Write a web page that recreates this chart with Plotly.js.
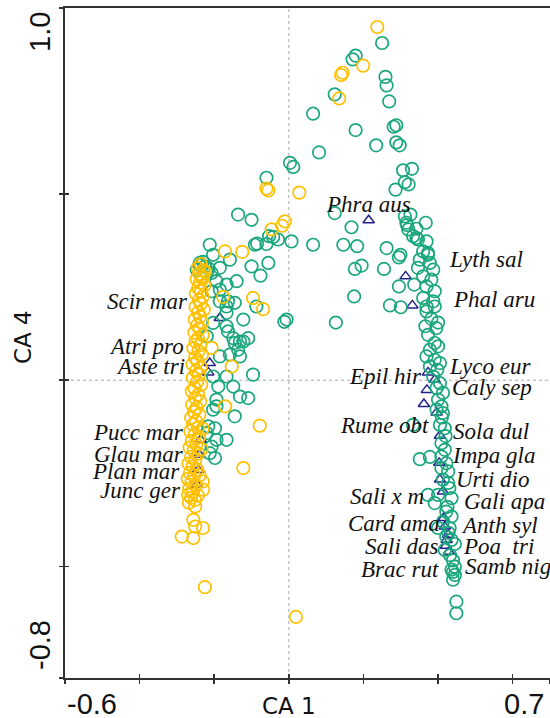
<!DOCTYPE html>
<html>
<head>
<meta charset="utf-8">
<script src="https://cdn.plot.ly/plotly-3.0.1.min.js"></script>
<style>
  html, body { margin: 0; padding: 0; background: #fff; }
  #chart { width: 550px; height: 718px; }
</style>
</head>
<body>
<div id="chart"></div>
<script>
// Sample scores on CA axes 1 and 4, group 1 (green)
const greenX = [
  0.250, 0.179, 0.171, 0.259, 0.262, 0.123, 0.269, 0.065, 0.179, 0.281, 0.288, 0.234, 0.288, 0.297, 0.081,
  0.003, 0.012, 0.306, 0.330, 0.311, 0.321, 0.286, -0.060,
  0.326, 0.315, 0.367, 0.320, 0.333, 0.346, 0.369, 0.360, 0.373, 0.262, 0.299, 0.311, 0.317, 0.342, 0.342,
  0.373, 0.351, 0.378, 0.346, 0.387, 0.360, 0.382, 0.369, 0.391, 0.360, 0.387, 0.369, 0.391, 0.369, 0.366,
  0.373, 0.391, 0.400, 0.378, 0.369, 0.391, 0.405, 0.378, 0.387, 0.405, 0.396, 0.413, 0.400, 0.409, 0.396,
  0.413, 0.405, 0.418, 0.409, 0.418, 0.378, 0.409, 0.422, 0.409, 0.427, 0.413, 0.427, 0.373, 0.400, 0.436,
  0.391, 0.422, 0.436, 0.413, 0.400, 0.431, 0.422, 0.436, 0.418, 0.440, 0.445, 0.436, 0.445, 0.440, 0.449,
  0.449, 0.333, 0.351, 0.395, 0.382, 0.398, 0.410, 0.420, 0.430, 0.425, 0.428, 0.445, 0.432, 0.440,
  0.123, 0.168, 0.146, 0.183, 0.295, 0.177, 0.195, 0.255, 0.295, 0.336, 0.175, 0.271, 0.300, 0.126, 0.400,
  0.065, 0.007, -0.006, -0.012,
  -0.136, -0.100, -0.053, -0.042, -0.029, -0.085, -0.060, -0.158, -0.100, -0.076, -0.055, -0.185, -0.140,
  -0.167, -0.185, -0.163, -0.145, -0.087, -0.167, -0.122, -0.163, -0.149, -0.109, -0.131, -0.212, -0.203,
  -0.091, -0.238, -0.247, -0.225, -0.207, -0.194, -0.207, -0.185, -0.167, -0.203, -0.167, -0.220, -0.145,
  -0.122, -0.136, -0.158, -0.131, -0.185, -0.203, -0.167, -0.096, -0.189, -0.149, -0.131, -0.194, -0.109,
  -0.145, -0.203, -0.216, -0.194, -0.198, -0.220, -0.167, -0.194, -0.207, -0.198, -0.212,
  -0.240, -0.230, -0.215, -0.220
];
const greenY = [
  0.906, 0.872, 0.862, 0.815, 0.792, 0.768, 0.749, 0.716, 0.672, 0.681, 0.685, 0.631, 0.639, 0.631, 0.612,
  0.584, 0.573, 0.564, 0.568, 0.532, 0.526, 0.512, 0.544,
  0.445, 0.423, 0.423, 0.405, 0.387, 0.378, 0.373, 0.346, 0.342, 0.355, 0.337, 0.440, 0.417, 0.407, 0.382,
  0.337, 0.324, 0.315, 0.302, 0.297, 0.279, 0.270, 0.252, 0.239, 0.221, 0.212, 0.198, 0.198, 0.185, 0.145,
  0.122, 0.100, 0.091, 0.082, 0.064, 0.055, 0.046, 0.037, 0.010, -0.008, -0.021, -0.034, -0.052, -0.070, -0.079,
  -0.088, -0.120, -0.129, -0.169, -0.187, -0.206, -0.205, -0.223, -0.236, -0.245, -0.267, -0.276, -0.308, -0.308, -0.317,
  -0.330, -0.353, -0.366, -0.380, -0.397, -0.397, -0.420, -0.429, -0.456, -0.484, -0.501, -0.509, -0.523, -0.536, -0.595,
  -0.626, -0.120, -0.212, 0.140, 0.165, 0.028, -0.100, -0.150, -0.290, -0.340, -0.410, -0.440, -0.470, -0.515,
  0.449, 0.411, 0.364, 0.360, 0.330, 0.299, 0.308, 0.299, 0.252, 0.257, 0.225, 0.201, 0.196, 0.155, 0.155,
  0.364, 0.373, 0.163, 0.157,
  0.445, 0.431, 0.387, 0.385, 0.378, 0.367, 0.366, 0.324, 0.306, 0.281, 0.315, 0.302, 0.266,
  0.257, 0.243, 0.212, 0.208, 0.198, 0.181, 0.163, 0.131, 0.113, 0.113, 0.104, 0.364, 0.337,
  0.364, 0.315, 0.297, 0.306, 0.288, 0.266, 0.239, 0.212, 0.198, 0.154, 0.145, 0.118, 0.100,
  0.104, 0.082, 0.069, 0.064, 0.064, 0.010, 0.010, 0.015, -0.017, -0.017, -0.044, -0.052, -0.048,
  -0.097, -0.079, -0.124, -0.070, -0.129, -0.142, -0.160, -0.160, -0.178, -0.209, -0.196,
  0.310, 0.318, 0.300, 0.290
];

// Sample scores, group 2 (orange)
const orangeX = [
  0.237, 0.199, 0.144, 0.140, 0.135, -0.055, -0.060, 0.028, -0.011, -0.018, -0.046, -0.171, -0.125,
  -0.176, -0.096, -0.069, -0.225, -0.230, -0.207, -0.153, -0.171, -0.078, -0.122, -0.230, -0.287,
  -0.256, -0.251, -0.256, -0.251, -0.225, -0.231, -0.230, 0.019,
  -0.236, -0.244, -0.229, -0.240, -0.233, -0.247, -0.238, -0.226, -0.243, -0.235, -0.249, -0.231,
  -0.241, -0.236, -0.250, -0.228, -0.243, -0.238, -0.252, -0.233, -0.246, -0.239, -0.253, -0.231,
  -0.244, -0.250, -0.237, -0.256, -0.242, -0.233, -0.251, -0.245, -0.258, -0.236, -0.249, -0.241,
  -0.257, -0.246, -0.235, -0.253, -0.260, -0.243, -0.251, -0.238, -0.259, -0.247, -0.254, -0.240,
  -0.262, -0.249, -0.257, -0.244, -0.264, -0.252, -0.241, -0.260, -0.248, -0.266, -0.255, -0.243,
  -0.262, -0.251, -0.269, -0.258, -0.246, -0.265, -0.254, -0.271, -0.261, -0.249, -0.267, -0.257,
  -0.270, -0.262, -0.252, -0.268, -0.244, -0.239, -0.234, -0.231
];
const orangeY = [
  0.949, 0.845, 0.826, 0.820, 0.757, 0.510, 0.515, 0.504, 0.427, 0.415, 0.405, 0.346, 0.345,
  0.224, 0.221, 0.191, 0.292, 0.275, 0.087, 0.037, -0.070, -0.122, -0.236, -0.397, -0.420,
  -0.424, -0.393, -0.375, -0.339, -0.556, -0.272, -0.294, -0.636,
  0.312, 0.301, 0.296, 0.286, 0.279, 0.271, 0.262, 0.255, 0.248, 0.239, 0.233, 0.224,
  0.215, 0.206, 0.197, 0.190, 0.182, 0.171, 0.163, 0.156, 0.147, 0.139, 0.128, 0.121,
  0.112, 0.104, 0.095, 0.086, 0.078, 0.069, 0.060, 0.051, 0.043, 0.034, 0.025, 0.015,
  0.007, -0.004, -0.012, -0.021, -0.030, -0.039, -0.048, -0.057, -0.066, -0.074, -0.085, -0.093,
  -0.101, -0.110, -0.119, -0.128, -0.137, -0.146, -0.153, -0.163, -0.172, -0.181, -0.189, -0.197,
  -0.206, -0.215, -0.224, -0.232, -0.240, -0.249, -0.257, -0.265, -0.274, -0.283, -0.291, -0.300,
  -0.308, -0.316, -0.322, -0.329, -0.310, -0.255, -0.185, -0.130
];

// Species scores (triangles) and their abbreviated names
const speciesNames = [
  "Phra aus", "Lyth sal", "Phal aru", "Epil hir", "Lyco eur", "Caly sep", "Rume obt", "Sola dul",
  "Impa gla", "Urti dio", "Gali apa", "Sali x m", "Card ama", "Anth syl", "Sali das", "Poa\u00a0 tri",
  "Brac rut", "Samb nig", "Scir mar", "Atri pro", "Aste tri", "Pucc mar", "Glau mar", "Plan mar", "Junc ger"
];
const speciesX = [
  0.214, 0.313, 0.331, 0.373, 0.391, 0.370, 0.362, 0.396, 0.405, 0.403, 0.405, 0.413, 0.418, 0.427,
  0.415, 0.423, 0.421, 0.429, -0.185, -0.212, -0.216, -0.236, -0.240, -0.243, -0.246
];
const speciesY = [
  0.430, 0.279, 0.201, 0.021, 0.001, -0.026, -0.064, -0.087, -0.149, -0.222, -0.267, -0.299, -0.393, -0.415,
  -0.370, -0.429, -0.445, -0.461, 0.167, 0.046, 0.021, -0.160, -0.200, -0.241, -0.281
];

// Axis setup
const xRange = [-0.6, 0.7];
const yRange = [-0.8, 1.0];
const xTickVals = [-0.6, -0.4, -0.2, 0, 0.2, 0.4, 0.6, 0.7];
const yTickVals = [-0.8, -0.5, 0, 0.5, 1.0];
const xEndLabels = ["-0.6", "0.7"];
const yEndLabels = ["-0.8", "1.0"];
const xTitle = "CA 1";
const yTitle = "CA 4";

// Where each species name is written (label centres, in axis units)
const labelX = [
  0.214, 0.528, 0.549, 0.260, 0.538, 0.544, 0.257, 0.541, 0.549, 0.546, 0.579, 0.263, 0.281, 0.565,
  0.303, 0.563, 0.297, 0.587, -0.380, -0.382, -0.372, -0.402, -0.403, -0.409, -0.397
];
const labelY = [
  0.472, 0.324, 0.216, 0.009, 0.036, -0.020, -0.122, -0.138, -0.203, -0.267, -0.327, -0.313, -0.386, -0.391,
  -0.448, -0.448, -0.509, -0.501, 0.211, 0.090, 0.036, -0.141, -0.200, -0.246, -0.297
];

const GREEN = "#1aa67e";
const ORANGE = "#ffc000";
const NAVY = "#22228a";
const AXIS = "#333333";

const circle = (color) => ({
  symbol: "circle-open", size: 12.5, color: color, line: { color: color, width: 1.7 }
});

// triangles sit underneath the open circles
const traces = [
  {
    type: "scatter", mode: "markers", x: speciesX, y: speciesY, text: speciesNames, hoverinfo: "text",
    marker: { symbol: "triangle-up-open", size: 10, color: NAVY, line: { color: NAVY, width: 1.5 } }
  },
  { type: "scatter", mode: "markers", x: greenX, y: greenY, marker: circle(GREEN), hoverinfo: "x+y" },
  { type: "scatter", mode: "markers", x: orangeX, y: orangeY, marker: circle(ORANGE), hoverinfo: "x+y" },
  // carries the inner half of the crossing ticks
  { type: "scatter", mode: "markers", x: [], y: [], xaxis: "x2", yaxis: "y2", hoverinfo: "skip" }
];

const tickFont = { family: "Liberation Sans, Arial, sans-serif", size: 29, color: "#111" };
const titleFont = { family: "DejaVu Sans, Verdana, sans-serif", size: 23, color: "#111" };
const labelFont = { family: "Liberation Serif, Times New Roman, serif", size: 23, color: "#111" };

const annotations = [];
speciesNames.forEach((name, i) => {
  annotations.push({
    x: labelX[i], y: labelY[i], xref: "x", yref: "y", text: "<i>" + name + "</i>",
    showarrow: false, xanchor: "center", yanchor: "middle", font: labelFont
  });
});
annotations.push(
  { xref: "x", yref: "paper", x: xRange[0], y: 0, text: xEndLabels[0], showarrow: false,
    xanchor: "left", yanchor: "top", yshift: -8, font: tickFont },
  { xref: "x", yref: "paper", x: xRange[1], y: 0, text: xEndLabels[1], showarrow: false,
    xanchor: "right", yanchor: "top", yshift: -8, xshift: -4, font: tickFont },
  { xref: "paper", yref: "y", x: 0, y: yRange[0], text: yEndLabels[0], showarrow: false, textangle: -90,
    xanchor: "center", yanchor: "middle", xshift: -25, yshift: 33, font: tickFont },
  { xref: "paper", yref: "y", x: 0, y: yRange[1], text: yEndLabels[1], showarrow: false, textangle: -90,
    xanchor: "center", yanchor: "middle", xshift: -25, yshift: -24, font: tickFont },
  { xref: "x", yref: "paper", x: 0, y: 0, text: xTitle, showarrow: false,
    xanchor: "center", yanchor: "middle", yshift: -28, font: titleFont },
  { xref: "paper", yref: "paper", x: 0, y: 0.5, text: yTitle, showarrow: false, textangle: -90,
    xanchor: "center", yanchor: "middle", xshift: -42, yshift: 6, font: titleFont }
);

const baseAxis = {
  showgrid: false, zeroline: false, showticklabels: false,
  ticks: "outside", ticklen: 4, tickwidth: 1.5, tickcolor: AXIS
};

const layout = {
  width: 550, height: 718,
  margin: { l: 65, r: 0, t: 8, b: 40 },
  paper_bgcolor: "#fff", plot_bgcolor: "#fff",
  showlegend: false,
  xaxis: Object.assign({}, baseAxis, {
    range: xRange, tickvals: xTickVals, showline: true, linecolor: AXIS, linewidth: 2, mirror: true
  }),
  yaxis: Object.assign({}, baseAxis, {
    range: yRange, tickvals: yTickVals, showline: true, linecolor: AXIS, linewidth: 2
  }),
  xaxis2: Object.assign({}, baseAxis, {
    range: xRange, tickvals: xTickVals, overlaying: "x", anchor: "y2", side: "bottom",
    ticks: "inside", showline: false
  }),
  yaxis2: Object.assign({}, baseAxis, {
    range: yRange, tickvals: yTickVals, overlaying: "y", anchor: "x2", side: "left",
    ticks: "inside", showline: false
  }),
  shapes: [
    { type: "line", xref: "x", yref: "paper", x0: 0, x1: 0, y0: 0, y1: 1, layer: "below",
      line: { color: "#a8a8a8", width: 1, dash: "dot" } },
    { type: "line", xref: "paper", yref: "y", x0: 0, x1: 1, y0: 0, y1: 0, layer: "below",
      line: { color: "#a8a8a8", width: 1, dash: "dot" } }
  ],
  annotations: annotations
};

Plotly.newPlot("chart", traces, layout, { displayModeBar: false, staticPlot: true });
</script>
</body>
</html>
